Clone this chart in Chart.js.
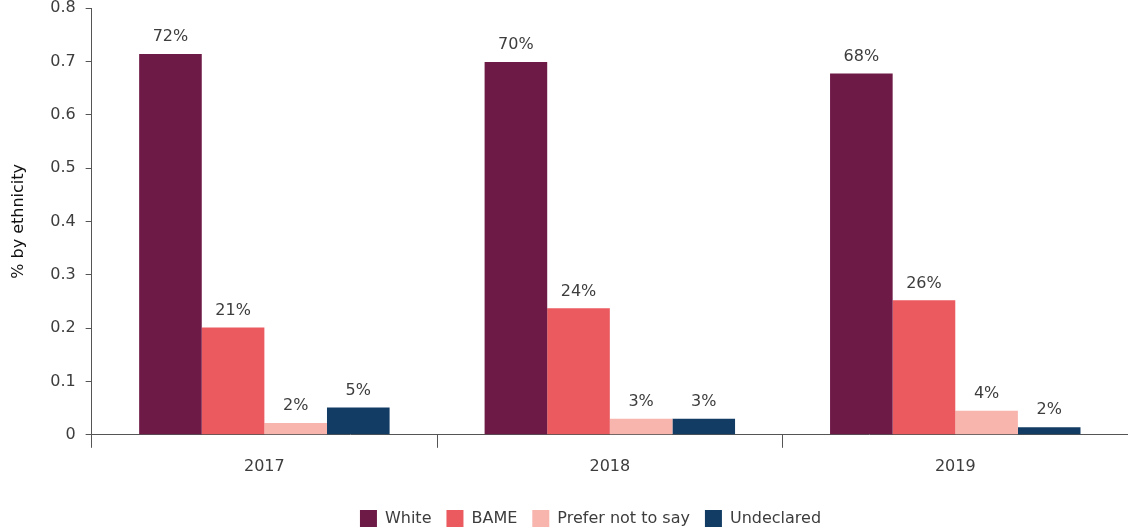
<!DOCTYPE html>
<html>
<head>
<meta charset="utf-8">
<script src="https://cdn.jsdelivr.net/npm/chart.js@4/dist/chart.umd.min.js"></script>
<style>
	html, body { margin: 0; padding: 0; background: #fff; }
	#wrap { width: 1128px; height: 528px; }
</style>
</head>
<body>
<div id="wrap"><canvas id="ethnicity-chart"></canvas></div>
<script>
var years = ['2017', '2018', '2019'];

var whiteValues = [0.714, 0.699, 0.677];
var bameValues = [0.201, 0.237, 0.252];
var preferValues = [0.022, 0.030, 0.045];
var undeclaredValues = [0.051, 0.030, 0.014];

var whiteLabels = ['72%', '70%', '68%'];
var bameLabels = ['21%', '24%', '26%'];
var preferLabels = ['2%', '3%', '4%'];
var undeclaredLabels = ['5%', '3%', '2%'];

var yTicks = [0, 0.1, 0.2, 0.3, 0.4, 0.5, 0.6, 0.7, 0.8];

var fontFamily = '"DejaVu Sans", "Open Sans", sans-serif';
var textColor = '#3d3d3d';
var axisColor = '#555555';

Chart.defaults.font.family = fontFamily;
Chart.defaults.color = textColor;

// draw the percentage text above every bar
var barLabelPlugin = {
	id: 'barLabels',
	afterDatasetsDraw: function(chart) {
		var ctx = chart.ctx;
		ctx.save();
		ctx.font = '16px ' + fontFamily;
		ctx.fillStyle = textColor;
		ctx.textAlign = 'center';
		ctx.textBaseline = 'bottom';
		chart.data.datasets.forEach(function(dataset, i) {
			var meta = chart.getDatasetMeta(i);
			meta.data.forEach(function(bar, j) {
				ctx.fillText(dataset.barLabels[j], bar.x, bar.y - 9);
			});
		});
		ctx.restore();
	}
};

//Nudge the legend a bit lower and to the right, like the original
var legendShiftPlugin = {
	id: 'legendShift',
	afterLayout: function(chart) {
		var legend = chart.legend;
		legend.left += 22;
		legend.right += 22;
		legend.top += 14;
		legend.bottom += 14;
	}
};

function makeDataset(label, values, labels, color) {
	return {
		label: label,
		data: values,
		barLabels: labels,
		backgroundColor: color,
		borderWidth: 0,
		barPercentage: 1,
		categoryPercentage: 0.725
	};
}

new Chart(document.getElementById('ethnicity-chart'), {
	type: 'bar',
	data: {
		labels: years,
		datasets: [
			makeDataset('White', whiteValues, whiteLabels, '#6e1a46'),
			makeDataset('BAME', bameValues, bameLabels, '#ea5a5e'),
			makeDataset('Prefer not to say', preferValues, preferLabels, '#f7b5ad'),
			makeDataset('Undeclared', undeclaredValues, undeclaredLabels, '#123c64')
		]
	},
	options: {
		responsive: true,
		maintainAspectRatio: false,
		animation: false,
		layout: {
			padding: {top: 0, right: 0, bottom: 5, left: 9}
		},
		plugins: {
			legend: {
				position: 'bottom',
				labels: {
					boxWidth: 17,
					boxHeight: 17,
					padding: 15,
					font: {size: 16},
					color: textColor
				}
			},
			tooltip: {enabled: false}
		},
		scales: {
			x: {
				offset: true,
				grid: {
					offset: true,
					drawOnChartArea: false,
					tickLength: 13,
					color: axisColor
				},
				border: {color: axisColor},
				ticks: {
					font: {size: 16},
					color: textColor,
					padding: 9
				},
				afterFit: function(scale) {
					scale.height -= 4;
				}
			},
			y: {
				min: 0,
				max: 0.8,
				afterBuildTicks: function(axis) {
					axis.ticks = yTicks.map(function(v) { return {value: v}; });
				},
				afterFit: function(scale) {
					scale.paddingTop = 8;
				},
				grid: {
					drawOnChartArea: false,
					tickLength: 6,
					color: axisColor
				},
				border: {color: axisColor},
				ticks: {
					font: {size: 16},
					color: textColor,
					padding: 10
				},
				title: {
					display: true,
					text: '% by ethnicity',
					font: {size: 16},
					color: '#111111',
					padding: {top: 0, bottom: 12}
				}
			}
		}
	},
	plugins: [barLabelPlugin, legendShiftPlugin]
});
</script>
</body>
</html>
